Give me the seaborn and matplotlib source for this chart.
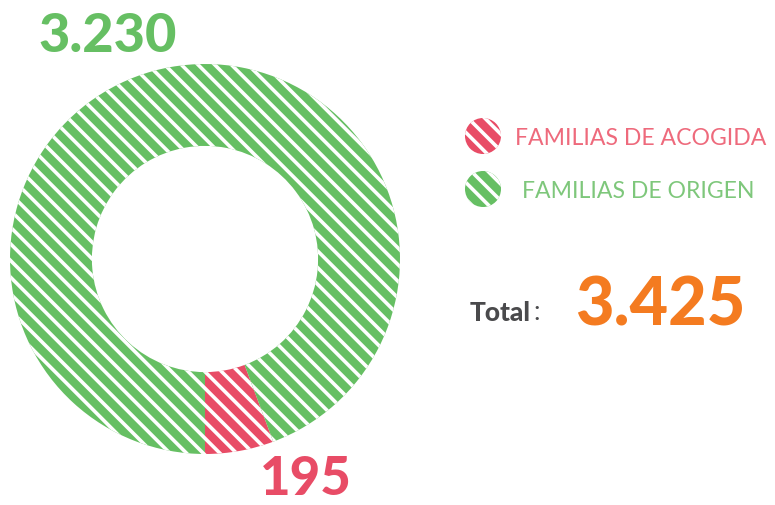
import matplotlib
matplotlib.use("Agg")
import matplotlib.pyplot as plt
import seaborn as sns
from matplotlib.patches import Circle

sns.set_theme(style="white")
plt.rcParams['font.family'] = ['Lato', 'DejaVu Sans']
plt.rcParams['hatch.linewidth'] = 2.6

# Data
categories = ["FAMILIAS DE ACOGIDA", "FAMILIAS DE ORIGEN"]
values = [195, 3230]
value_labels = ["195", "3.230"]
total_label = "3.425"
colors = ["#e84c66", "#66bf63"]
text_colors = ["#ee6a7c", "#7ec77b"]

W, H = 775, 506
fig = plt.figure(figsize=(W / 100, H / 100), dpi=100)
fig.patch.set_facecolor("white")

# Donut axes
cx, cy, r = 205, 260, 195
ax = fig.add_axes([(cx - r) / W, (H - cy - r) / H, 2 * r / W, 2 * r / H])
wedges, _ = ax.pie(values, colors=colors, startangle=-90, counterclock=True,
                   radius=1.0, wedgeprops=dict(width=0.42, edgecolor="white",
                                               linewidth=0))
for w in wedges:
    w.set_hatch("\\\\")
ax.set_xlim(-1, 1)
ax.set_ylim(-1, 1)
ax.set_aspect("equal")
ax.axis("off")

# Overlay axes in pixel coordinates
ov = fig.add_axes([0, 0, 1, 1], zorder=5)
ov.set_xlim(0, W)
ov.set_ylim(H, 0)
ov.axis("off")
ov.patch.set_alpha(0)

ov.text(108, 36, value_labels[1], color=colors[1], fontsize=39, fontweight="black",
        ha="center", va="center")
ov.text(306, 480, value_labels[0], color=colors[0], fontsize=38, fontweight="black",
        ha="center", va="center")

for i, (cat, col, tcol) in enumerate(zip(categories, colors, text_colors)):
    y = 137 + i * 53
    c = Circle((483, y), 18, facecolor=col, edgecolor="white", linewidth=0,
               hatch="\\\\")
    ov.add_patch(c)
    ov.text(515 if i == 0 else 522, y + 1, cat, color=tcol, fontsize=16.6,
            fontweight="normal", ha="left", va="center")

ov.text(470, 313, "Total", color="#4a4a4c", fontsize=19, fontweight="black",
        ha="left", va="center")
ov.text(533, 313, ":", color="#4a4a4c", fontsize=19, ha="left", va="center")
ov.text(575, 307, total_label, color="#f47b20", fontsize=48, fontweight="black",
        ha="left", va="center")

fig.savefig("out.png", dpi=100, facecolor="white")
